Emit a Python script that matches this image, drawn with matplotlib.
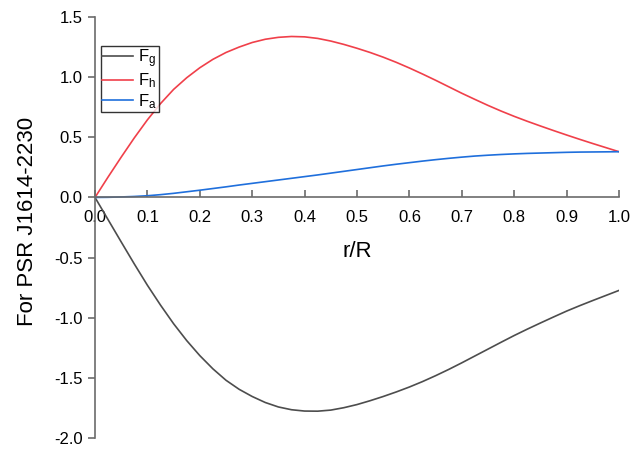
import numpy as np
import matplotlib
matplotlib.use("Agg")
import matplotlib.pyplot as plt

plt.rcParams['font.family'] = ['Liberation Sans', 'DejaVu Sans']
plt.rcParams['mathtext.fontset'] = 'custom'
plt.rcParams['mathtext.rm'] = 'Liberation Sans'
plt.rcParams['mathtext.it'] = 'Liberation Sans'

# radio normalizado, paso 0.025
r = np.linspace(0, 1, 41)

# fuerza gravitacional
F_g = [0.0, -0.185, -0.37, -0.553, -0.73, -0.895, -1.05, -1.19, -1.315, -1.425,
       -1.52, -1.595, -1.655, -1.705, -1.742, -1.765, -1.776, -1.777, -1.768, -1.748,
       -1.722, -1.69, -1.655, -1.617, -1.576, -1.531, -1.482, -1.43, -1.375, -1.318,
       -1.261, -1.204, -1.148, -1.095, -1.044, -0.994, -0.945, -0.9, -0.857, -0.815,
       -0.773]
# fuerza hidrostatica
F_h = [0.0, 0.17, 0.335, 0.495, 0.645, 0.78, 0.898, 0.995, 1.078, 1.148,
       1.205, 1.25, 1.288, 1.315, 1.331, 1.338, 1.335, 1.322, 1.30, 1.272,
       1.24, 1.205, 1.166, 1.123, 1.076, 1.026, 0.974, 0.92, 0.866, 0.815,
       0.765, 0.718, 0.674, 0.633, 0.594, 0.556, 0.519, 0.483, 0.448, 0.414,
       0.38]
# fuerza anisotropica
F_a = [0.0, 0.001, 0.004, 0.008, 0.014, 0.023, 0.034, 0.047, 0.06, 0.074,
       0.088, 0.103, 0.117, 0.131, 0.145, 0.159, 0.173, 0.187, 0.202, 0.217,
       0.232, 0.247, 0.262, 0.276, 0.289, 0.302, 0.314, 0.325, 0.335, 0.344,
       0.351, 0.357, 0.362, 0.366, 0.369, 0.372, 0.375, 0.377, 0.378, 0.379,
       0.38]

fig = plt.figure(figsize=(6.31, 4.49), dpi=100)
ax = fig.add_axes([95/631, 1 - 438/449, 524/631, 421/449])

ax.plot(r, F_g, color='#4d4d4d', lw=1.2, label=r'F$_\mathrm{g}$')
ax.plot(r, F_h, color='#f0404a', lw=1.2, label=r'F$_\mathrm{h}$')
ax.plot(r, F_a, color='#1f6fdc', lw=1.2, label=r'F$_\mathrm{a}$')

ax.set_xlim(0, 1.0)
ax.set_ylim(-2.0, 1.5)

# ejes: eje x en y = 0
gris = '#6b6b6b'
ax.spines['top'].set_visible(False)
ax.spines['right'].set_visible(False)
ax.spines['bottom'].set_position(('data', 0))
for s in ['left', 'bottom']:
    ax.spines[s].set_color(gris)
    ax.spines[s].set_linewidth(1.2)

ax.set_xticks(np.arange(0, 1.01, 0.1))
ax.set_yticks(np.arange(-2.0, 1.51, 0.5))
ax.xaxis.set_major_formatter(matplotlib.ticker.FormatStrFormatter('%.1f'))
ax.yaxis.set_major_formatter(matplotlib.ticker.FormatStrFormatter('%.1f'))
ax.tick_params(axis='x', direction='in', length=5, width=1.2, color=gris,
               labelsize=12, pad=9)
ax.tick_params(axis='y', direction='out', length=5, width=1.2, color=gris,
               labelsize=12, pad=4)

ax.set_xlabel('r/R', fontsize=16)
ax.xaxis.set_label_coords(0.5, 0.468)
ax.set_ylabel('For PSR J1614-2230', fontsize=16)
ax.yaxis.set_label_coords(-0.109, 0.515)

leg = ax.legend(loc='upper left', bbox_to_anchor=(0.011, 0.932), fontsize=12,
                frameon=True, fancybox=False, borderpad=0.1, borderaxespad=0,
                handlelength=1.85, handletextpad=0.3, labelspacing=0.1)
leg.get_frame().set_edgecolor('black')
leg.get_frame().set_linewidth(1.0)

plt.savefig('out.png', dpi=100)
